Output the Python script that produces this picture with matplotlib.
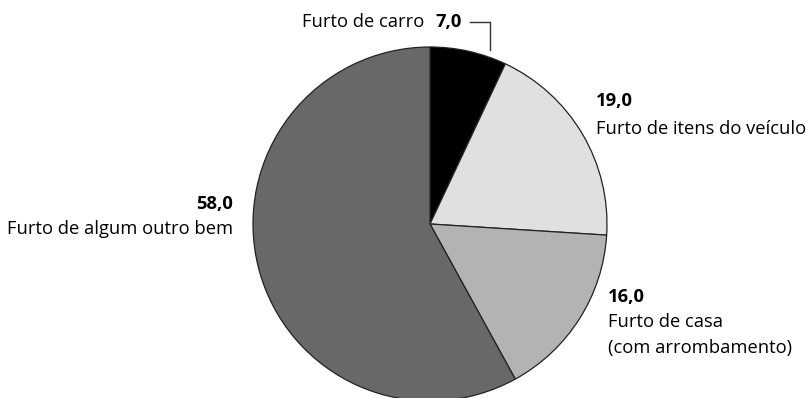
import matplotlib.pyplot as plt

categories = ["Furto de carro", "Furto de itens do veículo",
              "Furto de casa\n(com arrombamento)", "Furto de algum outro bem"]
values = [7.0, 19.0, 16.0, 58.0]
colors = ["#000000", "#e0e0e0", "#b3b3b3", "#686868"]

W, H = 806, 398
fig = plt.figure(figsize=(W / 100, H / 100), dpi=100)
ax = fig.add_axes([0, 0, 1, 1])
ax.set_xlim(0, W)
ax.set_ylim(0, H)
ax.set_aspect("equal")
ax.axis("off")

cx, cy, r = 430, H - 224, 177
ax.pie(values, colors=colors, startangle=90, counterclock=False,
       center=(cx, cy), radius=r,
       wedgeprops=dict(edgecolor="#222222", linewidth=0.9))
ax.set_xlim(0, W)
ax.set_ylim(0, H)

fam = ["Open Sans", "DejaVu Sans"]
fs = 13.2
def val(v):
    return f"{v:.1f}".replace(".", ",")

# Furto de carro (label on top with leader line)
ax.text(462, H - 22, val(values[0]), ha="right", va="center", fontsize=fs,
        fontweight="bold", family=fam)
ax.text(424, H - 22, categories[0], ha="right", va="center", fontsize=fs, family=fam)
ax.plot([470, 490, 490], [H - 22, H - 22, H - 50], color="#333333", lw=1)

# Furto de itens do veículo
ax.text(596, H - 101, val(values[1]), ha="left", va="center", fontsize=fs,
        fontweight="bold", family=fam)
ax.text(596, H - 129, categories[1], ha="left", va="center", fontsize=fs, family=fam)

# Furto de casa
ax.text(608, H - 297, val(values[2]), ha="left", va="center", fontsize=fs,
        fontweight="bold", family=fam)
ax.text(608, H - 322, "Furto de casa", ha="left", va="center", fontsize=fs, family=fam)
ax.text(608, H - 348, "(com arrombamento)", ha="left", va="center", fontsize=fs, family=fam)

# Furto de algum outro bem
ax.text(233, H - 204, val(values[3]), ha="right", va="center", fontsize=fs,
        fontweight="bold", family=fam)
ax.text(233, H - 229, categories[3], ha="right", va="center", fontsize=fs, family=fam)

fig.savefig("out.png", dpi=100)
